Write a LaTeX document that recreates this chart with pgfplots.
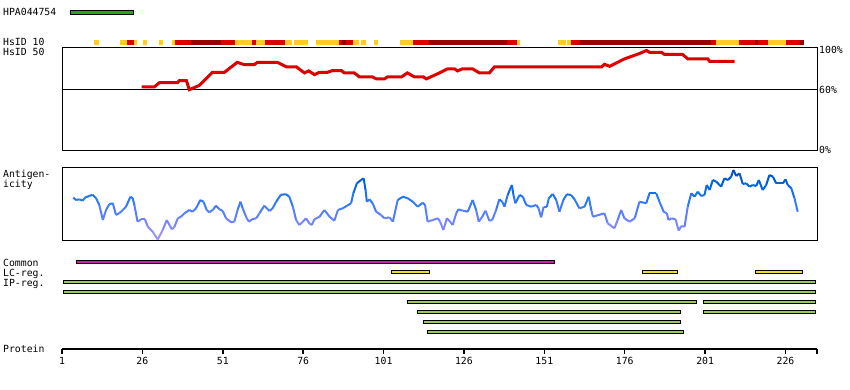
\documentclass[border=0pt]{standalone}
\usepackage{fontspec}
\setmainfont{DejaVu Sans Mono}
\usepackage{pgfplots}
\pgfplotsset{compat=1.18}
\definecolor{hyel}{RGB}{255,204,34}
\definecolor{hred}{RGB}{221,0,0}
\definecolor{hdark}{RGB}{153,0,0}
\definecolor{hpagreen}{RGB}{30,170,20}
\definecolor{commag}{RGB}{204,34,170}
\definecolor{lcyel}{RGB}{238,221,34}
\definecolor{ipgreen}{RGB}{153,204,85}
\pgfplotsset{
  base/.style={scale only axis, width=755pt, xmin=1, xmax=235.8, enlargelimits=false,
    /pgf/number format/assume math mode=true},
  fbar/.style={draw=black, line width=1pt},
}
\begin{document}
\begin{tikzpicture}[x=1pt,y=1pt,font=\fontsize{9.8}{11}\selectfont]
\path[use as bounding box] (0,0) rectangle (850,-390);

% ---- top: HPA bar and HsID 10 strip ----
\begin{axis}[base, at={(62pt,0pt)}, anchor=north west, height=48pt, ymin=0, ymax=48,
  hide axis, unbounded coords=jump, clip=false]
\addplot[fbar, fill=hpagreen] coordinates {(3.55,33.8)(23.25,33.8)(23.25,37.5)(3.55,37.5)} --cycle;
\addplot[hyel, line width=5pt] coordinates {
 (11.08,5.5)(12.63,5.5)(12.63,nan)
 (19.07,5.5)(21.34,5.5)(21.34,nan)
 (23.41,5.5)(24.36,5.5)(24.36,nan)
 (26.32,5.5)(27.56,5.5)(27.56,nan)
 (31.30,5.5)(32.54,5.5)(32.54,nan)
 (35.34,5.5)(36.18,5.5)(36.18,nan)
 (54.72,5.5)(60.22,5.5)(60.22,nan)
 (61.47,5.5)(64.27,5.5)(64.27,nan)
 (70.49,5.5)(72.57,5.5)(72.57,nan)
 (73.19,5.5)(77.64,5.5)(77.64,nan)
 (80.13,5.5)(87.28,5.5)(87.28,nan)
 (91.64,5.5)(93.50,5.5)(93.50,nan)
 (94.13,5.5)(95.68,5.5)(95.68,nan)
 (98.17,5.5)(99.41,5.5)(99.41,nan)
 (106.26,5.5)(110.30,5.5)(110.30,nan)
 (142.65,5.5)(143.58,5.5)(143.58,nan)
 (155.40,5.5)(157.60,5.5)(157.60,nan)
 (158.20,5.5)(159.40,5.5)(159.40,nan)
 (204.50,5.5)(211.40,5.5)(211.40,nan)
 (220.70,5.5)(226.30,5.5)};
\addplot[hred, line width=5pt] coordinates {
 (21.34,5.5)(23.41,5.5)(23.41,nan)
 (36.18,5.5)(41.25,5.5)(41.25,nan)
 (50.58,5.5)(54.72,5.5)(54.72,nan)
 (60.22,5.5)(61.47,5.5)(61.47,nan)
 (64.27,5.5)(70.49,5.5)(70.49,nan)
 (87.28,5.5)(88.22,5.5)(88.22,nan)
 (89.46,5.5)(91.64,5.5)(91.64,nan)
 (110.30,5.5)(115.28,5.5)(115.28,nan)
 (139.54,5.5)(142.65,5.5)(142.65,nan)
 (159.40,5.5)(162.20,5.5)(162.20,nan)
 (202.70,5.5)(204.50,5.5)(204.50,nan)
 (211.40,5.5)(216.40,5.5)(216.40,nan)
 (217.60,5.5)(220.70,5.5)(220.70,nan)
 (226.30,5.5)(230.40,5.5)};
\addplot[hdark, line width=5pt] coordinates {
 (41.25,5.5)(50.58,5.5)(50.58,nan)
 (88.22,5.5)(89.46,5.5)(89.46,nan)
 (115.28,5.5)(139.54,5.5)(139.54,nan)
 (162.20,5.5)(202.70,5.5)(202.70,nan)
 (216.40,5.5)(217.60,5.5)(217.60,nan)
 (230.40,5.5)(231.60,5.5)};
\end{axis}

% ---- HsID 50 panel ----
\begin{axis}[base, at={(62pt,-150pt)}, anchor=south west, height=102pt, ymin=0, ymax=102,
  xtick=\empty, ytick={0,60,100}, yticklabels={0\%,60\%,100\%}, yticklabel pos=right,
  major tick length=0pt, axis line style={line width=1pt},
  yticklabel style={inner sep=0pt, xshift=2pt}]
\addplot[black, line width=1pt] coordinates {(1,60)(235.8,60)};
\addplot[hred, line width=3pt] coordinates {
(25.8,63.0)(29.7,63.0)(31.3,67.3)(36.9,67.3)(37.5,69.3)(39.7,69.3)(40.6,60.3)(43.7,64.6)
(47.8,77.7)(51.5,77.7)(55.5,87.7)(57.7,85.4)(60.8,85.4)(61.8,87.7)(68.0,87.7)(70.8,83.1)
(73.9,83.1)(76.4,77.1)(77.7,79.1)(79.5,75.4)(81.1,77.7)(83.6,77.7)(85.1,79.4)(87.9,79.4)
(88.8,77.1)(91.9,77.1)(93.5,73.1)(97.5,73.1)(98.8,71.1)(101.3,71.1)(102.2,73.1)(106.6,73.1)
(108.4,77.1)(110.6,73.1)(113.4,73.1)(114.3,71.1)(118.4,77.1)(120.9,81.1)(123.1,81.1)
(124.0,79.1)(125.5,81.1)(128.7,81.1)(130.8,77.1)(133.9,77.1)(135.5,83.1)(168.8,83.1)
(169.7,85.7)(171.3,83.7)(176.0,91.2)(180.6,96.5)(182.8,99.5)(183.8,97.5)(187.5,97.5)
(188.4,95.5)(194.0,95.5)(195.6,91.2)(201.8,91.2)(202.4,88.7)(210.2,88.7)};
\end{axis}

% ---- Antigenicity panel ----
\begin{axis}[base, at={(62pt,-240pt)}, anchor=south west, height=72pt, ymin=0, ymax=72,
  xtick=\empty, ytick=\empty, axis line style={line width=1pt},
  colormap={antig}{rgb255(0cm)=(170,150,255); rgb255(2cm)=(110,130,255); rgb255(4cm)=(40,120,250); rgb255(5.5cm)=(0,100,230); rgb255(7.2cm)=(0,70,190)},
  point meta min=0, point meta max=72]
\addplot[mesh, line width=2pt, point meta=y] coordinates {
(4.5,42.3)(5.4,40)(6.4,40.7)(7.4,39.3)(8.3,42.7)(9.5,44)(10.5,45.3)(11.6,41.7)(12.6,35)(13.7,20)
(14.7,30)(15.7,35.7)(16.8,36.7)(17.8,25)(18.8,26.7)(19.9,30)(20.9,33.3)(22.3,43.3)(23.0,41.7)
(23.5,35)(24.5,18.3)(25.6,20.7)(26.8,20.7)(27.7,13.3)(29.2,8.3)(30.8,0.5)(32.3,10)(33.6,20)
(34.4,15)(35.2,10.7)(36.0,13.3)(37.0,21.7)(38.0,23.3)(39.1,26.7)(40.6,30)(41.6,28.3)(42.7,31.7)
(44.0,40)(45.0,38.3)(46.0,30)(46.8,27.7)(47.9,30)(48.9,34.3)(50.0,30.7)(51.0,29)(52.0,21.7)
(53.6,17.7)(54.6,18.3)(55.6,30)(56.5,38.3)(57.2,31.7)(58.3,22.7)(59.1,18.3)(60.1,20.7)(61.4,21.7)
(62.4,26.7)(63.9,34.3)(65.5,29)(66.5,31.7)(67.6,38.3)(69.1,45.3)(70.7,45.7)(71.7,43.3)(72.8,33.3)
(73.8,20)(74.8,15)(75.9,18.3)(76.9,21.7)(77.9,16.7)(78.7,15)(79.5,20.7)(81.1,23.3)(82.6,30)
(84.2,23.3)(85.7,19.3)(86.8,30)(88.3,31.7)(90.9,36.7)(91.6,46.7)(92.7,56.7)(94.0,60)(94.8,61.7)
(95.4,50)(95.8,38.3)(96.6,40.7)(97.6,36.7)(98.7,28.3)(100.2,25)(101.3,21.7)(102.8,22.7)(103.9,18.3)
(105.4,40)(107.0,43.3)(108.5,41.7)(110.1,38.3)(111.6,33.3)(113.2,37.3)(113.9,35)(114.7,18.3)
(116.3,20)(117.9,21.7)(118.6,18.3)(119.6,10)(120.7,21.7)(121.7,18.3)(122.5,15)(123.6,26.7)
(124.3,30.7)(125.6,29.3)(127.2,28.3)(128.7,40)(129.8,30)(130.6,18.3)(131.7,23.3)(132.7,29.3)
(133.9,19.3)(134.8,20)(136.0,30)(137.0,40.7)(137.9,38.3)(138.6,33.3)(139.6,45)(140.9,55)(141.4,45)
(142.0,36.7)(143.3,45)(144.3,43.3)(145.4,35)(146.9,33.3)(148.5,35)(149.2,31.7)(150.0,22.7)
(150.8,33.3)(151.8,33.3)(152.4,41.7)(153.6,46)(154.7,40)(155.7,28.3)(156.9,40)(158.0,45.7)
(159.3,45)(160.4,40.7)(161.9,31.7)(163.5,33.3)(164.8,43.3)(165.6,30)(166.1,23.3)(169.7,26.7)
(170.7,16.7)(172.8,11.7)(173.8,20)(174.9,30)(175.9,21.7)(177.5,18.3)(179.1,21.7)(180.6,38.3)
(182.7,36.7)(183.7,46.7)(185.8,46.7)(186.8,38.3)(188.1,28.3)(189.1,26.7)(189.6,20)(190.5,21.7)
(191.8,20.7)(192.8,9.3)(193.6,14)(194.6,13.3)(195.6,33.3)(196.7,46.7)(197.7,43.3)(198.7,48.3)
(199.8,44)(200.8,45)(201.5,55)(202.4,50)(203.4,60)(204.5,58.3)(206.0,53.3)(207.0,61.7)(208.1,60)
(209.1,63.3)(209.8,70)(210.7,64)(211.7,66.7)(212.7,56)(213.8,56.7)(214.8,53.3)(215.8,55)(216.9,54)
(217.7,60)(218.9,50)(220.0,55)(221.0,65)(222.1,63.3)(223.1,56.7)(225.2,56.7)(226.0,60.7)
(226.7,55)(227.8,51.7)(228.8,41.7)(229.8,28.3)};
\end{axis}

% ---- Feature rows and protein axis ----
\begin{axis}[base, at={(62pt,-349pt)}, anchor=south west, height=99pt, ymin=0, ymax=99,
  axis x line*=bottom, axis y line=none, x axis line style={-, line width=2.5pt},
  xtick={1,26,51,76,101,126,151,176,201,226,235.8},
  xticklabels={1,26,51,76,101,126,151,176,201,226,{}},
  tick align=outside, major tick length=4.5pt, xtick style={line width=1.5pt, black},
  ytick=\empty, clip=false]
\addplot[fbar, fill=commag] coordinates {(5.55,85.1)(154.25,85.1)(154.25,88.3)(5.55,88.3)} --cycle;
\addplot[fbar, fill=lcyel] coordinates {(103.35,75.1)(115.35,75.1)(115.35,78.3)(103.35,78.3)} --cycle;
\addplot[fbar, fill=lcyel] coordinates {(181.45,75.1)(192.45,75.1)(192.45,78.3)(181.45,78.3)} --cycle;
\addplot[fbar, fill=lcyel] coordinates {(216.65,75.1)(231.35,75.1)(231.35,78.3)(216.65,78.3)} --cycle;
\addplot[fbar, fill=ipgreen] coordinates {(1.35,65.1)(235.35,65.1)(235.35,68.3)(1.35,68.3)} --cycle;
\addplot[fbar, fill=ipgreen] coordinates {(1.35,55.1)(235.35,55.1)(235.35,58.3)(1.35,58.3)} --cycle;
\addplot[fbar, fill=ipgreen] coordinates {(108.35,45.1)(198.35,45.1)(198.35,48.3)(108.35,48.3)} --cycle;
\addplot[fbar, fill=ipgreen] coordinates {(200.45,45.1)(235.35,45.1)(235.35,48.3)(200.45,48.3)} --cycle;
\addplot[fbar, fill=ipgreen] coordinates {(111.45,35.1)(193.45,35.1)(193.45,38.3)(111.45,38.3)} --cycle;
\addplot[fbar, fill=ipgreen] coordinates {(200.45,35.1)(235.35,35.1)(235.35,38.3)(200.45,38.3)} --cycle;
\addplot[fbar, fill=ipgreen] coordinates {(113.55,25.1)(193.45,25.1)(193.45,28.3)(113.55,28.3)} --cycle;
\addplot[fbar, fill=ipgreen] coordinates {(114.55,15.1)(194.35,15.1)(194.35,18.3)(114.55,18.3)} --cycle;
\end{axis}

% ---- row labels ----
\begin{scope}[every node/.style={anchor=base west, inner sep=0pt}]
\node at (3,-16) {HPA044754};
\node at (3,-45.7) {HsID 10};
\node at (3,-56) {HsID 50};
\node at (3,-177.3) {Antigen-};
\node at (3,-187.3) {icity};
\node at (3,-266) {Common};
\node at (3,-276) {LC-reg.};
\node at (3,-286) {IP-reg.};
\node at (3,-352.3) {Protein};
\end{scope}
\end{tikzpicture}
\end{document}
